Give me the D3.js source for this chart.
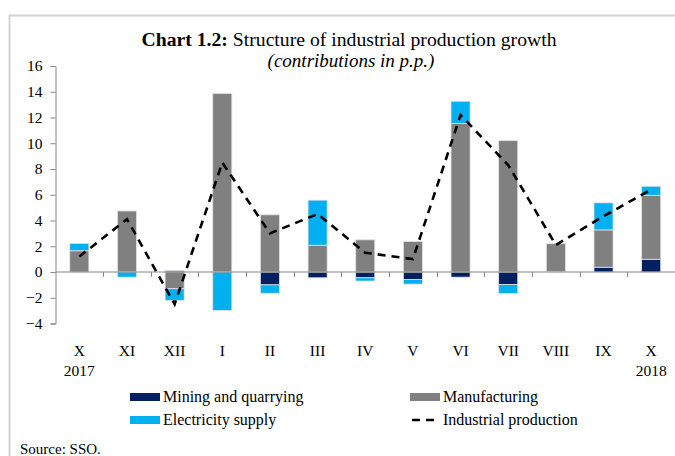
<!DOCTYPE html>
<html><head><meta charset="utf-8">
<script src="https://cdn.jsdelivr.net/npm/d3@7"></script>
<style>
body{margin:0;background:#fff;}
text{font-family:"Liberation Serif","Times New Roman",serif;fill:#000;}
</style></head>
<body><svg id="c" width="675" height="456"></svg>
<script>
const categories = ["X","XI","XII","I","II","III","IV","V","VI","VII","VIII","IX","X"];
const yearLabels = ["2017","","","","","","","","","","","","2018"];
const mining = [0.0, 0.0, 0.1, 0.0, -1.0, -0.45, -0.45, -0.58, -0.4, -0.97, 0.05, 0.37, 0.99];
const manufacturing = [1.65, 4.74, -1.3, 13.86, 4.44, 2.08, 2.5, 2.37, 11.53, 10.2, 2.15, 2.9, 4.97];
const electricity = [0.57, -0.4, -0.9, -2.99, -0.65, 3.5, -0.25, -0.36, 1.73, -0.7, 0.03, 2.1, 0.7];
const industrial = [1.2, 4.1, -2.5, 8.5, 3.0, 4.5, 1.5, 1.0, 12.2, 8.3, 2.1, 4.33, 6.4];
const yTicks = [-4,-2,0,2,4,6,8,10,12,14,16];
const seriesNames = ["Mining and quarrying","Manufacturing","Electricity supply","Industrial production"];
const colors = ["#002060","#808080","#00B0F0","#000"];

const svg = d3.select("#c");
// frame
svg.append("path").attr("d","M9.5,456 V15.5 H675").attr("fill","none").attr("stroke","#d4d4d4").attr("stroke-width",2);

const x = d3.scaleBand().domain(d3.range(categories.length)).range([55.5,675]).paddingInner(0.6).paddingOuter(0.3);
const y = d3.scaleLinear().domain([-4,16]).range([323.5,66]);

// stacked bars (positive and negative stacked separately)
const series = [mining, manufacturing, electricity];
categories.forEach((c,i)=>{
  let pos=0, neg=0;
  series.forEach((s,k)=>{
    const v=s[i]; if(!v) return;
    let y0,y1;
    if(v>=0){y0=pos; y1=pos+v; pos=y1;} else {y0=neg; y1=neg+v; neg=y1;}
    svg.append("rect")
      .attr("x",x(i)).attr("width",x.bandwidth())
      .attr("y",y(Math.max(y0,y1))).attr("height",Math.abs(y(y0)-y(y1)))
      .attr("fill",colors[k]).attr("stroke","#e0e0e0").attr("stroke-width",0.8);
  });
});

// y axis
const yAxis = d3.axisLeft(y).tickValues(yTicks).tickSize(5).tickPadding(8).tickFormat(d3.format("d"));
const ga = svg.append("g").attr("transform","translate(55.5,0)").call(yAxis);
ga.select(".domain").attr("stroke","#868686");
ga.selectAll(".tick line").attr("stroke","#868686");
ga.selectAll(".tick text").attr("font-size",15.5).attr("font-family","Liberation Serif");

// zero line with category boundary ticks
svg.append("line").attr("x1",55.5).attr("x2",675).attr("y1",y(0)).attr("y2",y(0)).attr("stroke","#868686").attr("stroke-width",1.2);
const step = x.step();
d3.range(1,categories.length).forEach(i=>{
  const xx = Math.round(x(i) - (step - x.bandwidth())/2)+0.5;
  svg.append("line").attr("x1",xx).attr("x2",xx).attr("y1",y(0)).attr("y2",y(0)+5).attr("stroke","#868686");
});

// category labels
svg.append("g").selectAll("text").data(categories).join("text")
  .attr("x",(d,i)=>x(i)+x.bandwidth()/2).attr("y",356).attr("text-anchor","middle").attr("font-size",15.5).text(d=>d);
svg.append("g").selectAll("text").data(yearLabels).join("text")
  .attr("x",(d,i)=>x(i)+x.bandwidth()/2).attr("y",376).attr("text-anchor","middle").attr("font-size",15.5).text(d=>d);

// line
const line = d3.line().x((d,i)=>x(i)+x.bandwidth()/2).y(d=>y(d));
svg.append("path").datum(industrial).attr("d",line).attr("fill","none")
  .attr("stroke","#000").attr("stroke-width",2.6).attr("stroke-dasharray","8,6");

// title
const t = svg.append("text").attr("x",349).attr("y",46).attr("text-anchor","middle").attr("font-size",19.7);
t.append("tspan").attr("font-weight","bold").text("Chart 1.2:");
t.append("tspan").text(" Structure of industrial production growth");
svg.append("text").attr("x",351).attr("y",67).attr("text-anchor","middle").attr("font-size",19).attr("font-style","italic").text("(contributions in p.p.)");

// legend
const leg = [
  {n:seriesNames[0],c:colors[0],x:130,y:397,t:"rect"},
  {n:seriesNames[1],c:colors[1],x:410,y:397,t:"rect"},
  {n:seriesNames[2],c:colors[2],x:130,y:420,t:"rect"},
  {n:seriesNames[3],c:colors[3],x:410,y:420,t:"line"}
];
leg.forEach(l=>{
  if(l.t==="rect") svg.append("rect").attr("x",l.x).attr("y",l.y-4).attr("width",30).attr("height",8).attr("fill",l.c);
  else svg.append("line").attr("x1",l.x+2).attr("x2",l.x+30).attr("y1",l.y).attr("y2",l.y).attr("stroke","#000").attr("stroke-width",2.6).attr("stroke-dasharray","8,6");
  svg.append("text").attr("x",l.x+33).attr("y",l.y+5).attr("font-size",16).text(l.n);
});

svg.append("text").attr("x",20).attr("y",454).attr("font-size",15).text("Source: SSO.");
</script></body></html>
